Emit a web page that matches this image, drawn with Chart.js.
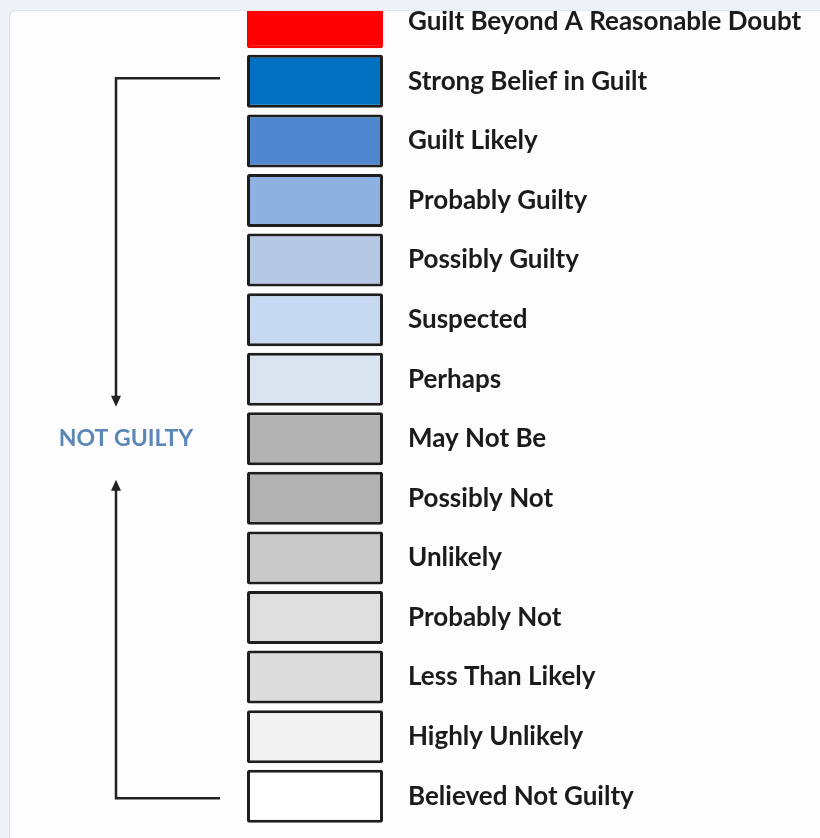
<!DOCTYPE html>
<html>
<head>
<meta charset="utf-8">
<script src="https://cdn.jsdelivr.net/npm/chart.js@4.4.1/dist/chart.umd.min.js"></script>
<style>
  html, body { margin: 0; padding: 0; }
  body { width: 820px; height: 838px; background: #eef2f6; position: relative; overflow: hidden; }
  #card {
    position: absolute; left: 9px; top: 10px; width: 811px; height: 828px;
    background: #fdfdfd; border-left: 1px solid #dde2e8; border-top: 1px solid #e3e7ec;
    border-top-left-radius: 7px; overflow: hidden;
  }
  #wrap { position: absolute; left: -10px; top: -19px; width: 820px; height: 846px; }
</style>
</head>
<body>
<div id="card">
  <div id="wrap"><canvas id="scaleChart"></canvas></div>
</div>
<script>
// scale levels, top to bottom
const levels = [
  "Guilt Beyond A Reasonable Doubt",
  "Strong Belief in Guilt",
  "Guilt Likely",
  "Probably Guilty",
  "Possibly Guilty",
  "Suspected",
  "Perhaps",
  "May Not Be",
  "Possibly Not",
  "Unlikely",
  "Probably Not",
  "Less Than Likely",
  "Highly Unlikely",
  "Believed Not Guilty"
];

// every box is the same size
const boxValues = [1, 1, 1, 1, 1, 1, 1, 1, 1, 1, 1, 1, 1, 1];

const boxColors = [
  "#fe0000", "#0070c0", "#5088cf", "#8db1e1", "#b5c9e5", "#c6d9f1", "#dbe5f1",
  "#b3b3b3", "#b1b1b1", "#c9c9c9", "#dedede", "#dcdcdc", "#f2f2f2", "#ffffff"
];

const borderColors = boxColors.map((c, i) => i === 0 ? c : "#1e1e1e");

const sideLabel = "NOT GUILTY";

/* ===== bracket + arrows on the left ===== */
const bracketPlugin = {
  id: "bracket",
  afterDraw(chart) {
    const { ctx, scales: { y } } = chart;
    const topY = y.getPixelForValue(1) - 3;
    const botY = y.getPixelForValue(levels.length - 1) + 2;
    const midY = y.getPixelForValue(7);
    const xv = 116, xh = 220;

    ctx.save();
    ctx.strokeStyle = "#222";
    ctx.fillStyle = "#222";
    ctx.lineWidth = 2.5;

    // upper leg, arrow pointing down
    const tipDown = midY - 32;
    ctx.beginPath();
    ctx.moveTo(xh, topY);
    ctx.lineTo(xv, topY);
    ctx.lineTo(xv, tipDown - 4);
    ctx.stroke();
    ctx.beginPath();
    ctx.moveTo(xv - 5, tipDown - 11);
    ctx.lineTo(xv + 5, tipDown - 11);
    ctx.lineTo(xv, tipDown);
    ctx.closePath();
    ctx.fill();

    // lower leg, arrow pointing up
    const tipUp = midY + 41;
    ctx.beginPath();
    ctx.moveTo(xh, botY);
    ctx.lineTo(xv, botY);
    ctx.lineTo(xv, tipUp + 4);
    ctx.stroke();
    ctx.beginPath();
    ctx.moveTo(xv - 5, tipUp + 11);
    ctx.lineTo(xv + 5, tipUp + 11);
    ctx.lineTo(xv, tipUp);
    ctx.closePath();
    ctx.fill();

    ctx.font = "bold 23px Lato";
    ctx.fillStyle = "#5a86b8";
    ctx.textAlign = "center";
    ctx.textBaseline = "middle";
    ctx.fillText(sideLabel, 126, midY);
    ctx.restore();
  }
};

new Chart(document.getElementById("scaleChart"), {
  type: "bar",
  data: {
    labels: levels,
    datasets: [{
      data: boxValues,
      backgroundColor: boxColors,
      borderColor: borderColors,
      borderWidth: 3,
      borderSkipped: false,
      borderRadius: 2,
      barPercentage: 0.89,
      categoryPercentage: 1
    }]
  },
  options: {
    indexAxis: "y",
    responsive: true,
    maintainAspectRatio: false,
    animation: false,
    layout: { padding: { left: 247, top: 0, bottom: 12, right: 0 } },
    plugins: {
      legend: { display: false },
      tooltip: { enabled: false }
    },
    scales: {
      x: { display: false, min: 0, max: 1 },
      y: {
        position: "right",
        grid: { display: false, drawTicks: false },
        border: { display: false },
        afterFit: s => {
          s.width = 437;
          s.paddingTop = 0;
          s.paddingBottom = 0;
        },
        ticks: {
          padding: 25,
          color: "#1b1b1b",
          font: { family: "Lato", weight: "bold", size: 26 }
        }
      }
    }
  },
  plugins: [bracketPlugin]
});
</script>
</body>
</html>
